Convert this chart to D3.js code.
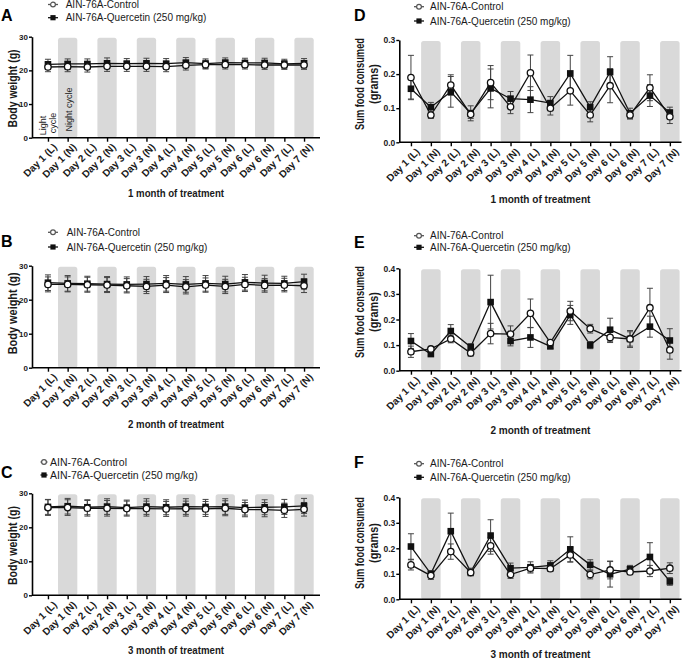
<!DOCTYPE html>
<html>
<head>
<meta charset="utf-8">
<script src="https://cdn.jsdelivr.net/npm/d3@7"></script>
<style>
  html, body { margin: 0; padding: 0; background: #fff; }
  svg { display: block; font-family: "Liberation Sans", Arial, sans-serif; }
</style>
</head>
<body>
<svg id="chart" width="685" height="659"></svg>
<script>
// ---------------- DATA ----------------
const categories = ["Day 1 (L)", "Day 1 (N)", "Day 2 (L)", "Day 2 (N)", "Day 3 (L)", "Day 3 (N)", "Day 4 (L)",
  "Day 4 (N)", "Day 5 (L)", "Day 5 (N)", "Day 6 (L)", "Day 6 (N)", "Day 7 (L)", "Day 7 (N)"];
const seriesNames = ["AIN-76A-Control", "AIN-76A-Quercetin (250 mg/kg)"];

const bodyWeightTicks = [0, 10, 20, 30];
const foodTicks1 = [0.0, 0.1, 0.2, 0.3];
const foodTicks2 = [0.0, 0.1, 0.2, 0.3, 0.4];
const monthTitles = ["1 month of treatment", "2 month of treatment", "3 month of treatment"];
const bodyWeightLabel = "Body weight (g)";
const foodLabel = ["Sum food consumed", "(grams)"];
const cycleNotes = ["Light", "cycle", "Night cycle"];

// Panel A - body weight, 1 month
const aControl = [21.0, 21.1, 21.0, 21.2, 21.2, 21.2, 21.1, 21.5, 21.7, 21.7, 21.7, 21.6, 21.6, 21.6];
const aControlErr = [1.4, 1.5, 1.5, 1.5, 1.5, 1.5, 1.5, 1.4, 1.3, 1.3, 1.3, 1.3, 1.3, 1.3];
const aQuercetin = [21.8, 21.9, 21.9, 22.1, 22.0, 22.1, 22.0, 22.3, 22.0, 22.3, 22.2, 22.2, 21.9, 22.1];
const aQuercetinErr = [1.5, 1.5, 1.5, 1.6, 1.5, 1.5, 1.5, 1.5, 1.4, 1.4, 1.4, 1.4, 1.4, 1.4];

// Panel B - body weight, 2 month
const bControl = [24.5, 24.5, 24.4, 24.3, 24.1, 23.9, 24.3, 23.8, 24.3, 23.9, 24.5, 24.2, 24.3, 24.1];
const bControlErr = [2.2, 2.2, 2.2, 2.2, 2.1, 2.1, 2.2, 2.1, 2.1, 2.1, 2.1, 2.0, 2.0, 2.0];
const bQuercetin = [25.0, 24.8, 24.7, 24.6, 24.5, 24.6, 24.8, 24.5, 24.8, 24.6, 25.1, 24.9, 24.8, 25.3];
const bQuercetinErr = [2.3, 2.3, 2.2, 2.2, 2.2, 2.2, 2.3, 2.3, 2.3, 2.3, 2.3, 2.3, 2.1, 2.2];

// Panel C - body weight, 3 month
const cControl = [25.8, 25.8, 25.6, 25.6, 25.5, 25.5, 25.4, 25.5, 25.4, 25.6, 25.2, 25.2, 25.0, 25.3];
const cControlErr = [2.3, 2.3, 2.3, 2.3, 2.2, 2.2, 2.2, 2.2, 2.2, 2.2, 2.1, 2.1, 2.1, 2.0];
const cQuercetin = [26.0, 26.2, 25.9, 26.1, 25.8, 26.1, 25.9, 26.1, 26.0, 26.1, 25.8, 25.9, 26.0, 26.3];
const cQuercetinErr = [2.2, 2.3, 2.2, 2.3, 2.2, 2.3, 2.2, 2.3, 2.2, 2.3, 2.2, 2.2, 2.2, 2.2];

// Panel D - food, 1 month
const dControl = [0.190, 0.080, 0.168, 0.082, 0.175, 0.104, 0.204, 0.100, 0.151, 0.080, 0.166, 0.080, 0.160, 0.075];
const dControlErr = [0.065, 0.010, 0.030, 0.012, 0.050, 0.020, 0.052, 0.020, 0.042, 0.020, 0.050, 0.012, 0.038, 0.020];
const dQuercetin = [0.157, 0.103, 0.148, 0.085, 0.158, 0.128, 0.125, 0.115, 0.202, 0.103, 0.206, 0.085, 0.137, 0.087];
const dQuercetinErr = [0.030, 0.014, 0.045, 0.022, 0.057, 0.021, 0.038, 0.019, 0.053, 0.016, 0.045, 0.015, 0.032, 0.016];

// Panel E - food, 2 month
const eControl = [0.074, 0.085, 0.124, 0.069, 0.145, 0.143, 0.224, 0.110, 0.233, 0.164, 0.130, 0.124, 0.246, 0.081];
const eControlErr = [0.022, 0.008, 0.015, 0.012, 0.040, 0.032, 0.056, 0.010, 0.038, 0.017, 0.020, 0.028, 0.076, 0.036];
const eQuercetin = [0.116, 0.065, 0.155, 0.093, 0.268, 0.116, 0.130, 0.095, 0.218, 0.100, 0.160, 0.124, 0.172, 0.118];
const eQuercetinErr = [0.029, 0.007, 0.025, 0.012, 0.105, 0.019, 0.039, 0.008, 0.037, 0.014, 0.045, 0.033, 0.041, 0.046];

// Panel F - food, 3 month
const fControl = [0.135, 0.093, 0.187, 0.105, 0.210, 0.097, 0.122, 0.120, 0.174, 0.097, 0.115, 0.107, 0.111, 0.122];
const fControlErr = [0.020, 0.015, 0.030, 0.012, 0.033, 0.015, 0.015, 0.010, 0.028, 0.017, 0.035, 0.010, 0.022, 0.021];
const fQuercetin = [0.207, 0.100, 0.267, 0.107, 0.250, 0.122, 0.125, 0.133, 0.196, 0.135, 0.098, 0.118, 0.166, 0.070];
const fQuercetinErr = [0.050, 0.012, 0.071, 0.015, 0.062, 0.020, 0.022, 0.018, 0.049, 0.020, 0.050, 0.015, 0.056, 0.015];

// ---------------- LAYOUT ----------------
const svg = d3.select("#chart");
const textColor = "#1a1a1a";

const panels = [
  { letter: "A", letterX: 1, letterY: 20.7, xr: [32, 320], pad: 0.81, yr: [137.7, 36.7], ticks: bodyWeightTicks, fmt: d3.format("d"),
    control: aControl, controlErr: aControlErr, querc: aQuercetin, quercErr: aQuercetinErr,
    legX: 53, legTextX: 65.7, legY: [4.5, 17.7], legHalf: 5, legFont: 10,
    title: monthTitles[0], titleY: 197, titleLen: 96, ylab: [bodyWeightLabel], ylabX: [12.7], ylabY: 88.5, ylabLen: [78], notes: true, tickFont: 8 },
  { letter: "B", letterX: 1, letterY: 246.7, xr: [32, 320], pad: 0.81, yr: [367.7, 265.7], ticks: bodyWeightTicks, fmt: d3.format("d"),
    control: bControl, controlErr: bControlErr, querc: bQuercetin, quercErr: bQuercetinErr,
    legX: 53, legTextX: 66.7, legY: [232.3, 247], legHalf: 5, legFont: 10,
    title: monthTitles[1], titleY: 428, titleLen: 96, ylab: [bodyWeightLabel], ylabX: [12.7], ylabY: 313.3, ylabLen: [82], notes: false, tickFont: 8 },
  { letter: "C", letterX: 1, letterY: 478, xr: [32, 320], pad: 0.81, yr: [595.3, 493.3], ticks: bodyWeightTicks, fmt: d3.format("d"),
    control: cControl, controlErr: cControlErr, querc: cQuercetin, quercErr: cQuercetinErr,
    legX: 44, legTextX: 50, legY: [462, 475], legHalf: 3.5, legFont: 10.5,
    title: monthTitles[2], titleY: 654, titleLen: 96, ylab: [bodyWeightLabel], ylabX: [12.7], ylabY: 545.5, ylabLen: [79], notes: false, tickFont: 8 },
  { letter: "D", letterX: 354, letterY: 20.7, xr: [399.3, 681.5], pad: 0.585, yr: [142.3, 40], ticks: foodTicks1, fmt: d3.format(".1f"),
    control: dControl, controlErr: dControlErr, querc: dQuercetin, quercErr: dQuercetinErr,
    legX: 419, legTextX: 430, legY: [6.7, 21], legHalf: 5, legFont: 10,
    title: monthTitles[0], titleY: 203, titleLen: 100, ylab: foodLabel, ylabX: [359, 373], ylabY: 84, ylabLen: [92, 40], notes: false, tickFont: 8.5 },
  { letter: "E", letterX: 354, letterY: 248, xr: [399.3, 681.5], pad: 0.585, yr: [370.7, 268.3], ticks: foodTicks2, fmt: d3.format(".1f"),
    control: eControl, controlErr: eControlErr, querc: eQuercetin, quercErr: eQuercetinErr,
    legX: 419, legTextX: 430, legY: [235.7, 247.3], legHalf: 5, legFont: 10,
    title: monthTitles[1], titleY: 434, titleLen: 100, ylab: foodLabel, ylabX: [359, 373], ylabY: 312, ylabLen: [92, 40], notes: false, tickFont: 8.5 },
  { letter: "F", letterX: 354, letterY: 468, xr: [399.3, 681.5], pad: 0.585, yr: [599.3, 497.3], ticks: foodTicks2, fmt: d3.format(".1f"),
    control: fControl, controlErr: fControlErr, querc: fQuercetin, quercErr: fQuercetinErr,
    legX: 419, legTextX: 430, legY: [463.7, 477.3], legHalf: 5, legFont: 10,
    title: monthTitles[2], titleY: 658, titleLen: 100, ylab: foodLabel, ylabX: [359, 373], ylabY: 543, ylabLen: [92, 40], notes: false, tickFont: 8.5 }
];

function drawPanel(p) {
  const g = svg.append("g");
  const x = d3.scalePoint().domain(categories).range(p.xr).padding(p.pad);
  const yMax = d3.max(p.ticks);
  const y = d3.scaleLinear().domain([0, yMax]).range(p.yr);
  const step = x.step();

  // shaded night-cycle bars
  const nightCats = categories.filter(c => c.includes("(N)"));
  g.append("g").selectAll("rect").data(nightCats).join("rect")
    .attr("x", d => x(d) - step * 0.49)
    .attr("width", step * 0.98)
    .attr("y", y(yMax * 0.99))
    .attr("height", y(0) - y(yMax * 0.99))
    .attr("rx", 2.5)
    .attr("fill", "#d9d9d9");

  // cycle notes (panel A)
  if (p.notes) {
    const nx = x(categories[0]);
    const notes = g.append("g").attr("fill", "#222").style("font-size", "9px");
    notes.append("text").attr("transform", `translate(${nx - 2},125.5) rotate(-90)`).attr("text-anchor", "middle").text(cycleNotes[0]);
    notes.append("text").attr("transform", `translate(${nx + 8},123) rotate(-90)`).attr("text-anchor", "middle").text(cycleNotes[1]);
    notes.append("text").attr("transform", `translate(${x(categories[1]) + 4.5},109.5) rotate(-90)`).attr("text-anchor", "middle").text(cycleNotes[2]);
  }

  // axes
  const yAxis = d3.axisLeft(y).tickValues(p.ticks).tickFormat(p.fmt).tickSize(3).tickSizeOuter(0);
  const ya = g.append("g").attr("transform", `translate(${p.xr[0]},0)`).call(yAxis);
  ya.select(".domain").attr("stroke", "#000").attr("stroke-width", 1.6);
  ya.selectAll(".tick line").attr("stroke", "#000").attr("stroke-width", 1.4);
  ya.selectAll(".tick text").attr("fill", textColor).style("font-size", p.tickFont + "px").style("font-weight", "bold").attr("x", -4);

  const xAxis = d3.axisBottom(x).tickSize(4).tickSizeOuter(0);
  const xa = g.append("g").attr("transform", `translate(0,${p.yr[0]})`).call(xAxis);
  xa.select(".domain").attr("d", `M${p.xr[0]},0H${p.xr[1]}`).attr("stroke", "#000").attr("stroke-width", 1.6);
  xa.selectAll(".tick line").attr("stroke", "#000").attr("stroke-width", 1.4);
  xa.selectAll(".tick text")
    .attr("fill", textColor).style("font-size", "10px").style("font-weight", "bold")
    .attr("text-anchor", "end")
    .attr("transform", "translate(4,5) rotate(-45)")
    .attr("x", 0).attr("y", 0).attr("dy", "0.71em");

  // series
  const series = [
    { vals: p.control, errs: p.controlErr, kind: "circle" },
    { vals: p.querc, errs: p.quercErr, kind: "square" }
  ];
  const line = d3.line().x((d, i) => x(categories[i])).y(d => y(d));
  series.forEach(s => {
    g.append("path").datum(s.vals).attr("d", line).attr("fill", "none").attr("stroke", "#111").attr("stroke-width", 1.3);
  });
  series.forEach(s => {
    const eg = g.append("g").attr("stroke", "#444").attr("stroke-width", 1).attr("fill", "none");
    s.vals.forEach((v, i) => {
      const cx = x(categories[i]);
      const top = y(v + s.errs[i]), bot = y(v - s.errs[i]);
      eg.append("path").attr("d", `M${cx},${top}V${bot}M${cx - 3},${top}H${cx + 3}M${cx - 3},${bot}H${cx + 3}`);
    });
  });
  series.slice().reverse().forEach(s => {
    const mg = g.append("g");
    s.vals.forEach((v, i) => {
      const cx = x(categories[i]), cy = y(v);
      if (s.kind === "circle") {
        mg.append("circle").attr("cx", cx).attr("cy", cy).attr("r", 3.2).attr("fill", "#fff").attr("stroke", "#111").attr("stroke-width", 1.3);
      } else {
        mg.append("rect").attr("x", cx - 3.3).attr("y", cy - 3.3).attr("width", 6.6).attr("height", 6.6).attr("fill", "#111");
      }
    });
  });

  // legend
  const lg = g.append("g");
  seriesNames.forEach((name, k) => {
    const ly = p.legY[k];
    lg.append("line").attr("x1", p.legX - p.legHalf).attr("x2", p.legX + p.legHalf).attr("y1", ly).attr("y2", ly)
      .attr("stroke", k === 0 ? "#555" : "#111").attr("stroke-width", 1.3);
    if (k === 0) {
      lg.append("circle").attr("cx", p.legX).attr("cy", ly).attr("r", 2.4).attr("fill", "#fff").attr("stroke", "#555").attr("stroke-width", 1.2);
    } else {
      lg.append("rect").attr("x", p.legX - 2.6).attr("y", ly - 2.6).attr("width", 5.2).attr("height", 5.2).attr("fill", "#111");
    }
    lg.append("text").attr("x", p.legTextX).attr("y", ly).attr("dy", "0.35em")
      .attr("fill", textColor).style("font-size", p.legFont + "px").text(name);
  });

  // panel letter
  g.append("text").attr("x", p.letterX).attr("y", p.letterY).attr("fill", "#000")
    .style("font-size", "16px").style("font-weight", "bold").text(p.letter);

  // x title
  g.append("text").attr("x", (p.xr[0] + p.xr[1]) / 2).attr("y", p.titleY).attr("text-anchor", "middle")
    .attr("fill", textColor).style("font-size", "11px").style("font-weight", "bold")
    .attr("textLength", p.titleLen).attr("lengthAdjust", "spacingAndGlyphs").text(p.title);

  // y title
  p.ylab.forEach((t, k) => {
    g.append("text").attr("transform", `translate(${p.ylabX[k] + 4.5},${p.ylabY}) rotate(-90)`)
      .attr("text-anchor", "middle").attr("fill", textColor)
      .style("font-size", "12.5px").style("font-weight", "bold")
      .attr("textLength", p.ylabLen[k]).attr("lengthAdjust", "spacingAndGlyphs").text(t);
  });
}

panels.forEach(drawPanel);
</script>
</body>
</html>
